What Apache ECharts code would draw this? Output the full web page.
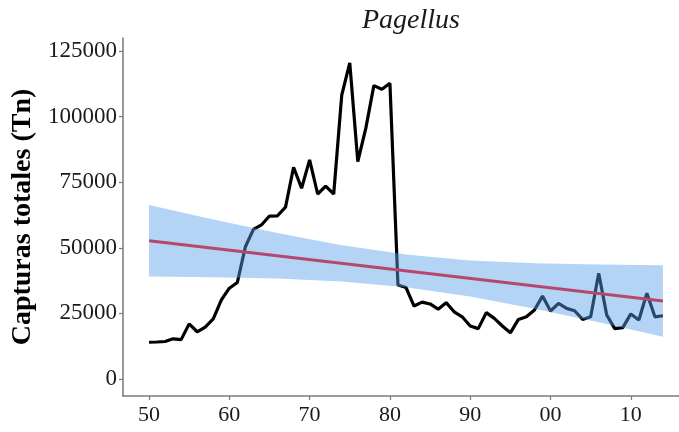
<!DOCTYPE html>
<html>
<head>
<meta charset="utf-8">
<script src="https://cdn.jsdelivr.net/npm/echarts@6/dist/echarts.min.js"></script>
<style>
  html, body { margin: 0; padding: 0; background: #fff; }
  #chart { width: 679px; height: 432px; }
</style>
</head>
<body>
<div id="chart"></div>
<script>
// Annual total catches of Pagellus (tonnes), 1950-2014
const firstYear = 1950;
const catches = [
  14000, 14100, 14300, 15300, 15000, 21000, 18000, 19800, 22900, 30100,
  34600, 36800, 50400, 57000, 58700, 62100, 62200, 65500, 80700, 72700,
  83500, 70500, 73500, 70500, 108200, 120500, 82800, 95600, 111800, 110400,
  112700, 35800, 34900, 27800, 29300, 28600, 26600, 29100, 25600, 23700,
  20200, 19200, 25300, 23100, 20200, 17600, 22700, 23700, 26300, 31600,
  25900, 28800, 26900, 26000, 22700, 23700, 40300, 24400, 19200, 19600,
  24800, 22500, 32700, 23700, 24100
];

// Linear trend (end points) and its confidence band
const trendYears = [1950, 2014];
const trendValues = [52700, 29700];
const bandYears = [1950, 1958, 1966, 1974, 1982, 1990, 1998, 2006, 2014];
const bandUpper = [66300, 60800, 55600, 51000, 47400, 45200, 44100, 43600, 43300];
const bandLower = [39100, 38800, 38300, 37200, 35000, 31400, 26800, 21600, 16100];

// Axis ticks
const xTicks = [1950, 1960, 1970, 1980, 1990, 2000, 2010];
const yTicks = [0, 25000, 50000, 75000, 100000, 125000];

const catchData = catches.map((v, i) => [firstYear + i, v]);
const trendData = trendYears.map((y, i) => [y, trendValues[i]]);
const bandData = bandYears.map((y, i) => [y, bandLower[i], bandUpper[i]]);

const serif = '"Liberation Serif", "Times New Roman", serif';
const axisGrey = '#7a7a7a';

// Ribbon polygon: upper edge left to right, then lower edge back
function renderBand(params, api) {
  if (params.dataIndex !== 0) return null;
  const upper = bandData.map(d => api.coord([d[0], d[2]]));
  const lower = bandData.map(d => api.coord([d[0], d[1]])).reverse();
  return {
    type: 'polygon',
    shape: { points: upper.concat(lower) },
    style: { fill: 'rgba(86,160,230,0.45)' }
  };
}

const chart = echarts.init(document.getElementById('chart'), null, { renderer: 'canvas' });
chart.setOption({
  animation: false,
  backgroundColor: '#ffffff',
  title: {
    text: 'Pagellus',
    left: 406,
    top: 2,
    textAlign: 'center',
    textStyle: { fontFamily: serif, fontStyle: 'italic', fontWeight: 'normal', fontSize: 28, color: '#1a1a1a' }
  },
  grid: { left: 123, right: 0, top: 38, bottom: 36, containLabel: false },
  xAxis: {
    type: 'value',
    min: 1946.76,
    max: 2016,
    splitLine: { show: false },
    axisLine: { show: true, onZero: false, lineStyle: { color: axisGrey, width: 1.5 } },
    axisTick: { show: true, length: 4, customValues: xTicks, lineStyle: { color: axisGrey, width: 1.2 } },
    axisLabel: {
      customValues: xTicks,
      margin: 8,
      fontFamily: serif, fontSize: 22, color: '#1a1a1a',
      formatter: v => String(Math.round(v) % 100).padStart(2, '0')
    }
  },
  yAxis: {
    type: 'value',
    min: -6480,
    max: 129950,
    name: 'Capturas totales (Tn)',
    nameLocation: 'middle',
    nameGap: 80,
    nameTextStyle: { fontFamily: serif, fontWeight: 'bold', fontSize: 28, color: '#000' },
    splitLine: { show: false },
    axisLine: { show: true, onZero: false, lineStyle: { color: axisGrey, width: 1.5 } },
    axisTick: { show: true, length: 4, customValues: yTicks, lineStyle: { color: axisGrey, width: 1.2 } },
    axisLabel: {
      customValues: yTicks,
      margin: 6,
      fontFamily: serif, fontSize: 23, color: '#1a1a1a',
      formatter: v => String(Math.round(v))
    }
  },
  series: [
    {
      name: 'Capturas',
      type: 'line',
      data: catchData,
      symbol: 'none',
      z: 2,
      lineStyle: { color: '#000', width: 3.2 }
    },
    {
      name: 'IC',
      type: 'custom',
      data: bandData,
      encode: { x: 0, y: [1, 2] },
      renderItem: renderBand,
      z: 3,
      silent: true
    },
    {
      name: 'Tendencia',
      type: 'line',
      data: trendData,
      symbol: 'none',
      z: 4,
      lineStyle: { color: '#b5486c', width: 3 }
    }
  ]
});
</script>
</body>
</html>
